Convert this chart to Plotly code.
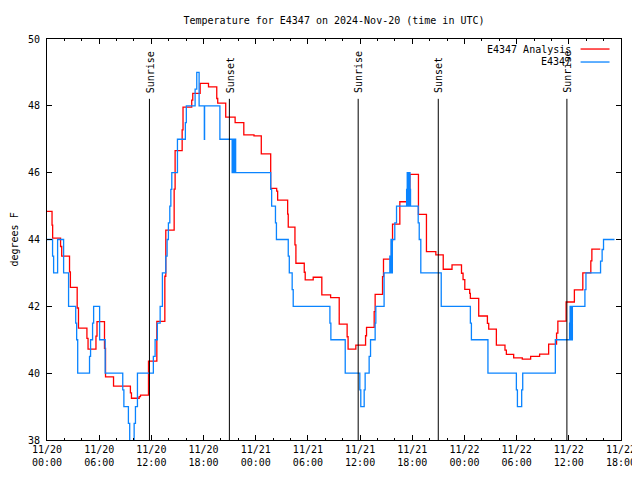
import pandas as pd
import plotly.graph_objects as go

# ---- data (hours after 2024-11-20 00:00 UTC) ----
analysis_hours = [0.00, 0.58, 0.65, 1.56, 1.69, 2.59, 2.69, 3.47, 3.62, 4.59, 4.72, 5.63, 5.75,
                  6.61, 6.73, 7.65, 9.59, 9.71, 10.60, 10.75, 11.67, 12.63, 13.55, 13.66, 14.62,
                  14.73, 15.54, 15.64, 16.64, 16.76, 17.61, 18.57, 19.52, 19.63, 20.55, 21.63,
                  22.63, 23.80, 24.64, 25.72, 26.41, 26.52, 27.67, 27.74, 28.51, 28.62, 29.58,
                  29.69, 30.61, 31.60, 32.61, 33.60, 34.51, 34.62, 35.51, 36.63, 36.74, 37.62,
                  37.73, 38.58, 38.69, 39.61, 39.73, 40.57, 41.72, 42.71, 43.63, 44.71, 45.56,
                  46.57, 47.66, 47.84, 48.04, 48.60, 48.68, 49.64, 50.64, 50.79, 51.67, 52.66,
                  52.82, 53.66, 54.65, 55.61, 56.64, 57.68, 58.59, 58.74, 59.69, 60.64, 61.61,
                  62.53, 62.65, 63.62]
analysis_temp = [44.84, 44.43, 44.04, 43.79, 43.50, 43.03, 42.57, 41.95, 41.35, 41.04, 40.72, 41.11, 41.54,
                 40.74, 39.89, 39.61, 39.41, 39.25, 39.30, 39.34, 40.36, 41.55, 42.90, 44.28, 45.51,
                 46.66, 47.28, 47.96, 48.17, 48.37, 48.67, 48.57, 48.22, 48.08, 47.66, 47.50,
                 47.13, 47.10, 46.56, 45.53, 45.45, 45.18, 44.76, 44.37, 43.84, 43.29, 43.02,
                 42.79, 42.87, 42.34, 42.26, 41.47, 41.09, 40.72, 40.84, 41.12, 41.37, 41.84,
                 42.36, 42.89, 43.41, 43.96, 44.46, 45.13, 45.95, 44.75, 43.64, 43.54, 43.11,
                 43.24, 42.99, 42.80, 42.51, 42.39, 42.24, 41.71, 41.49, 41.32, 40.84, 40.69,
                 40.56, 40.46, 40.42, 40.50, 40.57, 40.87, 41.20, 41.56, 42.13, 42.49, 43.00,
                 43.36, 43.71, 43.71]

station_hours = [0.00, 0.64, 0.76, 1.22, 1.91, 2.48, 3.30, 3.41, 3.53, 4.89, 5.01, 5.24, 5.36,
                 6.05, 6.69, 8.71, 8.84, 9.36, 9.51, 10.02, 10.17, 10.40, 12.23, 12.43, 12.69,
                 13.01, 13.27, 13.66, 13.81, 13.96, 14.12, 14.24, 14.35, 15.00, 15.91, 16.02,
                 17.03, 17.22, 17.49, 18.09, 18.12, 19.88, 21.29, 21.37, 21.47, 21.57, 21.69,
                 25.72, 25.83, 26.27, 26.38, 27.74, 27.86, 28.19, 28.31, 32.53, 32.64, 34.29,
                 35.97, 36.08, 36.47, 36.58, 37.04, 37.20, 37.73, 37.81, 38.76, 39.42, 39.49,
                 39.56, 39.63, 39.71, 39.99, 40.19, 41.35, 41.42, 41.48, 41.54, 41.60, 41.66,
                 41.74, 41.80, 42.68, 42.80, 42.98, 45.33, 48.68, 48.80, 50.70, 53.97, 54.09,
                 54.58, 54.70, 58.45, 60.09, 60.15, 60.21, 60.27, 60.33, 60.41, 61.85, 61.97,
                 63.65, 63.83, 63.99, 65.25]
station_temp = [44, 43.5, 43, 44, 43, 42, 41.5, 41, 40, 40.5, 41, 41.5, 42,
                41, 40, 39.5, 39, 38.5, 37.5, 38.5, 39, 40, 40.5, 41, 41.5,
                42, 43, 43.5, 44, 44.5, 45, 45.5, 46, 47, 47.5, 48,
                48.5, 49, 48, 47, 48, 47, 46, 47, 46, 47, 46,
                45.5, 45, 44.5, 44, 43.5, 43, 42.5, 42, 41.5, 41, 40,
                39.5, 39, 39.5, 40, 40.5, 41, 41.5, 42, 43, 43.5, 43,
                44, 43, 44, 44.5, 45, 45.5, 46, 45, 46, 45, 46,
                45.5, 45, 44.5, 44, 43, 42, 41.5, 41, 40, 39.5, 39,
                39.5, 40, 41, 41.5, 42, 41, 42, 41, 42, 42.5, 43,
                43.35, 43.7, 44, 44]

sun_events = ["Sunrise", "Sunset", "Sunrise", "Sunset", "Sunrise"]
sun_hours = [11.78, 20.97, 35.78, 44.99, 59.78]
sun_line_top = 48.21

tick_hours = [0, 6, 12, 18, 24, 30, 36, 42, 48, 54, 60, 66]
tick_text = ["11/20<br>00:00", "11/20<br>06:00", "11/20<br>12:00", "11/20<br>18:00",
             "11/21<br>00:00", "11/21<br>06:00", "11/21<br>12:00", "11/21<br>18:00",
             "11/22<br>00:00", "11/22<br>06:00", "11/22<br>12:00", "11/22<br>18:00"]

base = pd.Timestamp("2024-11-20 00:00")
def to_time(hours):
    return [base + pd.Timedelta(hours=h) for h in hours]

FONT = "DejaVu Sans Mono"
RED = "#ff0000"
BLUE = "#0a84ff"

fig = go.Figure()
fig.add_trace(go.Scatter(x=to_time(analysis_hours), y=analysis_temp, mode="lines",
                         line=dict(color=RED, width=1.3, shape="hv"), name="E4347 Analysis",
                         showlegend=False))
fig.add_trace(go.Scatter(x=to_time(station_hours), y=station_temp, mode="lines",
                         line=dict(color=BLUE, width=1.3, shape="hv"), name="E4347",
                         showlegend=False))

for name, h in zip(sun_events, sun_hours):
    t = base + pd.Timedelta(hours=h)
    fig.add_shape(type="line", xref="x", yref="y", x0=t, x1=t, y0=38, y1=sun_line_top,
                  line=dict(color="black", width=1))
    fig.add_annotation(x=t, y=sun_line_top, xref="x", yref="y", text=name, textangle=-90,
                       showarrow=False, xanchor="center", yanchor="bottom", yshift=4, xshift=1,
                       font=dict(family=FONT, size=10, color="black"))

# legend (gnuplot style: text then sample line)
fig.add_annotation(xref="paper", yref="paper", x=0.9157, y=0.9733, text="E4347 Analysis",
                   showarrow=False, xanchor="right", yanchor="middle",
                   font=dict(family=FONT, size=10, color="black"))
fig.add_annotation(xref="paper", yref="paper", x=0.9157, y=0.9434, text="E4347",
                   showarrow=False, xanchor="right", yanchor="middle",
                   font=dict(family=FONT, size=10, color="black"))
fig.add_shape(type="line", xref="paper", yref="paper", x0=0.9296, x1=0.980, y0=0.975, y1=0.975,
              line=dict(color=RED, width=1.3))
fig.add_shape(type="line", xref="paper", yref="paper", x0=0.9296, x1=0.980, y0=0.9426, y1=0.9426,
              line=dict(color=BLUE, width=1.3))

# y axis title
fig.add_annotation(xref="paper", yref="paper", x=0, y=0.5, xshift=-33, text="degrees F",
                   textangle=-90, showarrow=False, xanchor="center", yanchor="middle",
                   font=dict(family=FONT, size=10, color="black"))

# page body has an 8px margin: size/margins compensate so the plot box lands at 47..621 x 39..440
fig.update_layout(
    width=632, height=472,
    margin=dict(l=39, r=19, t=31, b=40, autoexpand=False),
    paper_bgcolor="white", plot_bgcolor="white",
    font=dict(family=FONT, size=10, color="black"),
    title=dict(text="Temperature for E4347 on 2024-Nov-20 (time in UTC)", x=0.5, xref="paper",
               y=1 - 12 / 472, yanchor="middle", font=dict(family=FONT, size=10, color="black")),
    showlegend=False,
)
fig.update_xaxes(
    type="date",
    range=[base, base + pd.Timedelta(hours=66)],
    tickmode="array", tickvals=to_time(tick_hours), ticktext=tick_text,
    ticks="inside", ticklen=5, tickcolor="black", tickwidth=1,
    minor=dict(ticks="inside", ticklen=2, dtick=2 * 3600 * 1000, tick0=base, tickcolor="black"),
    showline=True, linecolor="black", linewidth=1, mirror="ticks",
    showgrid=False, zeroline=False, automargin=False,
    tickfont=dict(family=FONT, size=10, color="black"),
)
fig.update_yaxes(
    range=[38, 50], tickmode="linear", tick0=38, dtick=2,
    ticks="inside", ticklen=5, tickcolor="black", tickwidth=1,
    showline=True, linecolor="black", linewidth=1, mirror="ticks",
    showgrid=False, zeroline=False, automargin=False,
    tickfont=dict(family=FONT, size=10, color="black"),
    ticklabelstandoff=4,
)

fig.write_html("out.html")
